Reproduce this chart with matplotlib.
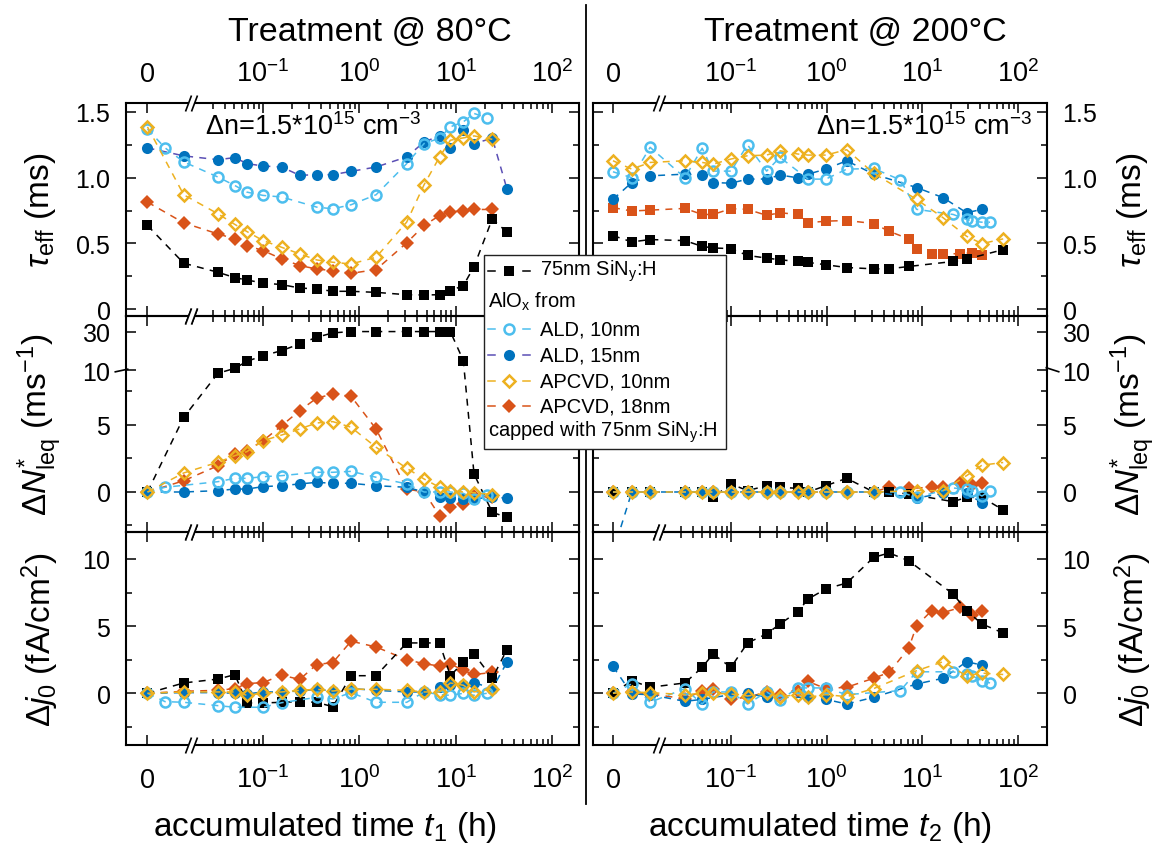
import numpy as np
import matplotlib.pyplot as plt
from matplotlib.lines import Line2D
from matplotlib.patches import Rectangle
from matplotlib.path import Path
from matplotlib.markers import MarkerStyle
from matplotlib.transforms import blended_transform_factory

plt.rcParams['font.family'] = ['Liberation Sans', 'DejaVu Sans']
plt.rcParams['mathtext.fontset'] = 'custom'
plt.rcParams['mathtext.rm'] = 'Liberation Sans'
plt.rcParams['mathtext.it'] = 'Liberation Sans:italic'
plt.rcParams['mathtext.bf'] = 'Liberation Sans:bold'
plt.rcParams['mathtext.sf'] = 'Liberation Sans'
plt.rcParams['lines.scale_dashes'] = False

nan = np.nan

# ---------------- data ----------------
# accumulated time (h) at 80 C
t1 = [0, 0.0096, 0.015, 0.034, 0.051, 0.068, 0.10, 0.156, 0.24, 0.36, 0.53,
      0.82, 1.49, 3.1, 4.7, 6.8, 8.8, 12, 15.5, 21, 24, 34]

tau80_sin = [0.636, nan, 0.349, 0.280, 0.239, 0.221, 0.198, 0.186, 0.160, 0.153, 0.135,
             0.135, 0.127, 0.109, 0.107, 0.109, 0.140, 0.178, 0.323, nan, 0.687, 0.585]
tau80_ald10 = [1.37, 1.227, 1.12, 1.005, 0.94, 0.89, 0.865, 0.853, nan, 0.776, 0.763,
               0.794, 0.87, 1.107, 1.26, 1.30, 1.387, 1.425, 1.489, 1.456, nan, nan]
tau80_ald15 = [1.227, nan, 1.166, 1.137, 1.153, 1.107, 1.089, 1.081, 1.018, 1.023, 1.023,
               1.048, 1.081, 1.158, 1.272, 1.318, 1.227, 1.36, 1.26, nan, 1.30, 0.916]
tau80_apcvd10 = [1.387, nan, 0.87, 0.725, 0.644, 0.59, 0.521, 0.47, 0.42, 0.374, 0.356,
                 0.343, 0.394, 0.662, 0.947, 1.158, 1.285, 1.303, 1.318, nan, 1.292, nan]
tau80_apcvd18 = [0.814, nan, 0.656, 0.572, 0.534, 0.483, 0.445, 0.382, 0.331, 0.305, 0.292,
                 0.272, 0.30, 0.504, 0.636, 0.712, 0.738, 0.75, 0.758, nan, 0.758, nan]

dn80_sin = [0, nan, 5.57, 9.39, 10.9, 14.6, 17.5, 20.2, 23.7, 27.2, 29.5,
            30.2, 30.2, 30.2, 30.2, 30.2, 30.2, 15.0, 1.34, nan, -1.52, -1.89]
dn80_ald10 = [0, 0.35, nan, 0.77, 1.02, 1.02, 1.14, 1.22, nan, 1.47, 1.47,
              1.54, 1.10, 0.60, 0, 0, 0, -0.1, -0.5, -0.25, nan, nan]
dn80_ald15 = [0, nan, 0, 0.1, 0.22, 0.22, 0.4, 0.47, 0.6, 0.72, 0.65,
              0.65, 0.47, 0.35, 0, -0.4, -0.45, -0.5, -0.5, nan, -0.4, -0.45]
dn80_apcvd10 = [0, nan, 1.42, 2.22, 2.71, 3.01, 3.83, 4.25, 4.70, 5.15, 5.25,
                4.83, 3.34, 1.77, 0.97, 0.35, 0.1, 0, -0.05, nan, -0.2, nan]
dn80_apcvd18 = [0, nan, 0.84, 1.96, 2.84, 3.08, 3.83, 4.95, 6.07, 7.0, 7.31,
                7.14, 4.70, 0.22, 0, -1.77, -1.14, -0.9, -0.28, nan, -0.4, nan]

dj80_sin = [0, nan, 0.77, 1.06, 1.39, -0.72, -0.72, -0.67, -0.62, -0.67, -1.0,
            1.31, 1.31, 3.75, 3.75, 3.75, 1.31, 2.31, 2.93, nan, 1.12, 3.25]
dj80_ald10 = [0, -0.62, -0.67, -0.92, -1.04, nan, -1.04, -0.7, nan, -0.3, -0.42,
              0.05, -0.67, -0.67, 0.1, -0.1, -0.15, 0.0, -0.15, 0, nan, nan]
dj80_ald15 = [0, nan, 0.05, 0.05, 0, -0.05, 0.1, 0.1, 0.17, 0.3, 0.17,
              0.35, 0.22, 0.1, 0.1, 0.47, 0.6, 0.6, 0.8, nan, 0.35, 2.3]
dj80_apcvd10 = [0, nan, 0.1, 0.1, 0.1, -0.15, 0, 0.1, 0.22, 0.3, 0.17,
                0.3, 0.3, 0.22, 0.1, 0.1, 0.77, 0.6, 0.1, nan, 0.35, nan]
dj80_apcvd18 = [0, nan, 0.15, 0.22, 0.35, 0.72, 0.8, 1.35, 1.03, 2.14, 2.29,
                3.88, 3.45, 2.5, 2.2, 2.03, 2.2, 1.7, 1.4, nan, 1.55, nan]

# accumulated time (h) at 200 C
t2 = [0, 0.0092, 0.0143, 0.033, 0.050, 0.065, 0.10, 0.149, 0.236, 0.325, 0.50, 0.64,
      0.98, 1.62, 3.1, 4.5, 5.9, 7.2, 8.7, 12.5, 16.5, 21, 25, 29, 33, 42, 51, 70]

tau200_sin = [0.559, 0.511, 0.529, 0.521, 0.477, 0.465, 0.46, 0.408, 0.388, 0.375, 0.362, 0.355,
              0.337, 0.316, 0.306, 0.306, nan, 0.324, nan, nan, nan, 0.362, nan, 0.38, nan, nan, nan, 0.452]
tau200_ald10 = [1.045, 1.0, 1.231, 1.0, 1.224, 1.05, 1.05, 1.25, 1.05, 1.155, nan, 0.989,
                0.989, 1.065, 1.07, nan, 0.983, nan, 0.759, nan, nan, 0.72, nan, 0.682, 0.669, 0.661, 0.661, nan]
tau200_ald15 = [0.835, 0.963, 1.014, 1.027, 1.02, 0.963, 0.958, 0.989, 0.99, 1.02, 0.999, 1.027,
                1.065, 1.129, 1.027, nan, nan, nan, 0.925, nan, 0.848, nan, nan, 0.733, nan, 0.759, nan, nan]
tau200_apcvd10 = [1.129, 1.065, 1.116, 1.129, 1.116, 1.103, 1.142, 1.167, 1.172, 1.205, 1.18, 1.172,
                  1.172, 1.213, 1.034, nan, nan, nan, 0.835, nan, 0.695, nan, nan, 0.554, nan, 0.498, nan, 0.534]
tau200_apcvd18 = [0.772, 0.746, 0.753, 0.766, 0.72, 0.72, 0.764, 0.759, 0.713, 0.733, 0.72, 0.657,
                  0.669, 0.674, 0.651, 0.592, nan, 0.534, 0.457, 0.421, 0.421, nan, 0.421, nan, 0.43, 0.41, nan, nan]

dn200_sin = [0, 0, 0, 0, 0, -0.4, 0.6, 0.1, 0.47, 0.35, 0.27, 0,
             0.47, 1.02, 0, 0, nan, -0.15, nan, nan, nan, -0.72, nan, -0.4, nan, -0.4, nan, -1.34]
dn200_ald10 = [0, 0, 0, 0, 0, 0, 0, 0, 0, 0, nan, 0,
               0, 0, 0, nan, 0, nan, -0.4, nan, nan, 0.3, nan, 0.2, 0.1, -0.3, 0.1, nan]
dn200_ald15 = [-4.5, 0, 0, 0, 0, 0, 0, 0, 0, 0, 0, 0,
               0, 0, 0, nan, nan, nan, -0.45, nan, -0.1, nan, nan, -0.1, nan, -0.8, nan, nan]
dn200_apcvd10 = [0, 0, 0, 0, 0, 0, 0, 0, 0, 0, 0, 0,
                 0, 0, 0, nan, nan, nan, 0.1, nan, 0.1, nan, nan, 1.22, nan, 2.0, nan, 2.2]
dn200_apcvd18 = [0, 0, 0, 0, 0, 0, 0, 0, 0, 0, 0, 0,
                 0, 0, 0, 0.35, nan, 0.27, nan, 0.35, 0.35, nan, 0.67, nan, 0.55, 0.67, nan, nan]

dj200_sin = [0, 0.94, 0.45, 0.77, 1.93, 2.93, 1.93, 3.75, 4.42, 5.16, 6.08, 7.02,
             7.77, 8.21, 10.12, 10.45, nan, 9.87, nan, nan, nan, 7.39, nan, 6.15, nan, 5.16, nan, 4.49]
dj200_ald10 = [0, 0.7, -0.67, 0.35, -0.8, 0.1, 0.1, -0.8, 0.1, -0.5, 0.4, 0.4,
               0.4, -0.1, nan, nan, 0.2, nan, 1.6, nan, nan, 1.6, nan, 1.4, 1.3, 0.94, 0.77, nan]
dj200_ald15 = [2.0, -0.05, -0.1, -0.6, -0.45, nan, -0.1, 0, -0.3, nan, nan, -0.3,
               -0.45, -0.8, -0.3, nan, nan, nan, 0.69, nan, 1.12, nan, nan, 2.35, nan, 2.1, nan, nan]
dj200_apcvd10 = [0, 0.1, 0.05, -0.1, 0, 0, -0.05, -0.2, 0, -0.25, -0.1, -0.3,
                 -0.1, -0.25, 0.35, nan, nan, nan, 1.68, nan, 2.35, nan, nan, 1.3, nan, 1.5, nan, 1.4]
dj200_apcvd18 = [0, 0.1, -0.05, -0.4, 0.17, 0.35, -0.42, -0.3, 0.1, -0.15, 0.2, 0.88,
                 0.35, 0.45, 1.12, 1.56, nan, 3.35, 5.03, 6.15, 6.0, nan, 6.4, nan, 5.83, 6.15, nan, nan]

legend_labels = [r'75nm SiN$_\mathrm{y}$:H', r'AlO$_\mathrm{x}$ from', 'ALD, 10nm', 'ALD, 15nm',
                 'APCVD, 10nm', 'APCVD, 18nm', r'capped with 75nm SiN$_\mathrm{y}$:H']

# ---------------- styles ----------------
names = ['sin', 'apcvd18', 'ald15', 'ald10', 'apcvd10']
STYLE = {
    'sin':     dict(marker='s', color='black', mfc='black', ms=7.2, z=3),
    'ald10':   dict(marker='o', color='#4DBEEE', mfc='none', ms=7.2, z=5),
    'ald15':   dict(marker='o', color='#0072BD', mfc='#0072BD', ms=8.0, z=4),
    'apcvd10': dict(marker='D', color='#EDB120', mfc='none', ms=6.2, z=6),
    'apcvd18': dict(marker='D', color='#D95319', mfc='#D95319', ms=6.8, z=2),
}
PURPLE = '#5B4FB5'
DASH = (0, (5, 4.5))
FS_TICK = 19.5
FS_YTICK = 18
FS_LAB = 24

W, H = 1161, 853
fig = plt.figure(figsize=(W / 100, H / 100), dpi=100)


def add_ax(x0, x1, y0, y1):
    return fig.add_axes([x0 / W, 1 - y1 / H, (x1 - x0) / W, (y1 - y0) / H])


def upos(t, u0):
    t = np.asarray(t, float)
    return np.where(t > 0, np.log10(np.clip(t, 1e-12, None)), u0)


def brk(v):
    # broken y axis of the middle row: linear up to ~9, compressed above 10
    return np.interp(v, [-10, 8.5, 10, 30, 50], [-10, 8.5, 9.1, 11.94, 14.78])


def ident(v):
    return np.asarray(v, float)


xbrk_gap = MarkerStyle(Path([(-6, -8), (0, -8), (6, 8), (0, 8), (-6, -8)], [1, 2, 2, 2, 79]))
xbrk_lines = MarkerStyle(Path([(-6, -8), (0, 8), (0, -8), (6, 8)], [1, 2, 1, 2]))
ybrk_left = MarkerStyle(Path([(-12, -1.5), (2, 1.5)], [1, 2]))
ybrk_right = MarkerStyle(Path([(-2, 3), (12, -1.5)], [1, 2]))

sides = [
    dict(x0=126, x1=578.5, xlim=(-2.423, 2.275), u0=-2.2, t=t1, right=False,
         title='Treatment @ 80°C', tx=370, xlabel=r'accumulated time $t_1$ (h)', xlx=325,
         tau=dict(sin=tau80_sin, ald10=tau80_ald10, ald15=tau80_ald15, apcvd10=tau80_apcvd10, apcvd18=tau80_apcvd18),
         dn=dict(sin=dn80_sin, ald10=dn80_ald10, ald15=dn80_ald15, apcvd10=dn80_apcvd10, apcvd18=dn80_apcvd18),
         dj=dict(sin=dj80_sin, ald10=dj80_ald10, ald15=dj80_ald15, apcvd10=dj80_apcvd10, apcvd18=dj80_apcvd18)),
    dict(x0=592.5, x1=1047, xlim=(-2.447, 2.303), u0=-2.233, t=t2, right=True,
         title='Treatment @ 200°C', tx=855, xlabel=r'accumulated time $t_2$ (h)', xlx=820,
         tau=dict(sin=tau200_sin, ald10=tau200_ald10, ald15=tau200_ald15, apcvd10=tau200_apcvd10, apcvd18=tau200_apcvd18),
         dn=dict(sin=dn200_sin, ald10=dn200_ald10, ald15=dn200_ald15, apcvd10=dn200_apcvd10, apcvd18=dn200_apcvd18),
         dj=dict(sin=dj200_sin, ald10=dj200_ald10, ald15=dj200_ald15, apcvd10=dj200_apcvd10, apcvd18=dj200_apcvd18)),
]

rows = [
    dict(kind='tau', y0=104, y1=317, ylim=(-0.053, 1.5685), f=ident,
         ticks=[0, 0.5, 1.0, 1.5], labels=['0', '0.5', '1.0', '1.5'], minor=[0.25, 0.75, 1.25],
         ylabel=r'$\tau_{\mathrm{eff}}$ (ms)'),
    dict(kind='dn', y0=317, y1=533, ylim=(-2.985, 13.13), f=brk,
         ticks=[0, 5, 10, 30], labels=['0', '5', '10', '30'], minor=[-2.5, 2.5, 7.5],
         ylabel=r'$\Delta N^{*}_{\mathrm{leq}}$ (ms$^{-1}$)'),
    dict(kind='dj', y0=533, y1=746, ylim=(-3.85, 12.01), f=ident,
         ticks=[0, 5, 10], labels=['0', '5', '10'], minor=[-2.5, 2.5, 7.5],
         ylabel=r'$\Delta j_0$ (fA/cm$^2$)'),
]

xlabels = ['$0$', r'$10^{-1}$', r'$10^{0}$', r'$10^{1}$', r'$10^{2}$']
ubreak = -1.75

for side in sides:
    u = upos(side['t'], side['u0'])
    xmaj = [side['u0'], -1, 0, 1, 2]
    xmin = [np.log10(k * 10.0 ** d) for d in range(-2, 2) for k in range(2, 10)]
    xmin = [m for m in xmin if ubreak + 0.15 < m < side['xlim'][1] - 0.01]
    for ri, row in enumerate(rows):
        ax = add_ax(side['x0'], side['x1'], row['y0'], row['y1'])
        ax.patch.set_visible(False)
        f = row['f']
        data = side[row['kind']]
        for key in names:
            st = STYLE[key]
            y = np.asarray(data[key], float)
            m = np.isfinite(y)
            marker = st['marker']
            ms = st['ms']
            if key == 'apcvd18' and row['kind'] == 'tau' and side['right']:
                marker, ms = 's', 7.2
            lc = st['color']
            if key == 'ald15' and row['kind'] == 'tau' and not side['right']:
                lc = PURPLE
            hollow = st['mfc'] == 'none'
            ax.plot(u[m], f(y[m]), ls=DASH, lw=1.1, color=lc, marker=marker, ms=ms,
                    mfc=st['mfc'], mec=st['color'], mew=1.8 if hollow else 0.0,
                    zorder=st['z'])

        ax.set_xlim(*side['xlim'])
        ax.set_ylim(*row['ylim'])
        ax.set_xticks(xmaj)
        ax.set_xticks(xmin, minor=True)
        # mathtext labels keep the text boxes tight to the digits
        ax.set_yticks(f(row['ticks']), labels=['$%s$' % s for s in row['labels']])
        ax.set_yticks(f(row['minor']), minor=True)
        ax.tick_params(which='both', direction='in', top=True, bottom=True, left=True, right=True,
                       width=1.1, labelbottom=False, labeltop=False)
        ax.tick_params(which='major', length=7.5)
        ax.tick_params(which='minor', length=4.5)
        ax.tick_params(axis='y', labelsize=FS_YTICK, pad=11)
        for sp in ax.spines.values():
            sp.set_linewidth(1.5)

        if side['right']:
            ax.tick_params(axis='y', labelleft=False, labelright=True)
            ax.yaxis.set_label_position('right')
            ax.set_ylabel(row['ylabel'], fontsize=FS_LAB, va='center', rotation=90)
            ax.yaxis.set_label_coords((1133 - side['x0']) / (side['x1'] - side['x0']), 0.5)
        else:
            ax.set_ylabel(row['ylabel'], fontsize=FS_LAB, va='center')
            ax.yaxis.set_label_coords((40 - side['x0']) / (side['x1'] - side['x0']), 0.5)

        # x tick labels (top row on top, bottom row below)
        xtf = ax.get_xaxis_transform()
        hpx = row['y1'] - row['y0']
        if ri == 0:
            for xv, s in zip(xmaj, xlabels):
                ax.text(xv, (row['y1'] - 82) / hpx, s, transform=xtf, ha='center',
                        va='baseline', fontsize=FS_TICK)
        if ri == 2:
            for xv, s in zip(xmaj, xlabels):
                ax.text(xv, (row['y1'] - 788) / hpx, s, transform=xtf, ha='center',
                        va='baseline', fontsize=FS_TICK)
            ax.set_xlabel(side['xlabel'], fontsize=FS_LAB, va='center')
            ax.xaxis.set_label_coords((side['xlx'] - side['x0']) / (side['x1'] - side['x0']),
                                      (row['y1'] - 828) / hpx)

        # broken x axis marks
        bt = blended_transform_factory(ax.transData, ax.transAxes)
        for yb in (0, 1):
            ax.plot([ubreak], [yb], ls='none', marker=xbrk_gap, ms=11.5, mfc='white',
                    mec='none', transform=bt, clip_on=False, zorder=9)
            ax.plot([ubreak], [yb], ls='none', marker=xbrk_lines, ms=11.5, mfc='none',
                    mec='black', mew=1.2, transform=bt, clip_on=False, zorder=10)

        # broken y axis mark at 10 in the middle row
        if row['kind'] == 'dn':
            yt = blended_transform_factory(ax.transAxes, ax.transData)
            if side['right']:
                ax.plot([1], [brk(10)], ls='none', marker=ybrk_right, ms=17.3, mfc='none',
                        mec='black', mew=1.2, transform=yt, clip_on=False, zorder=10)
            else:
                ax.plot([0], [brk(10)], ls='none', marker=ybrk_left, ms=17.3, mfc='none',
                        mec='black', mew=1.2, transform=yt, clip_on=False, zorder=10)

        if row['kind'] == 'tau':
            note = r'$\Delta$n=1.5*10$^{15}$ cm$^{-3}$'
            if side['right']:
                ax.text(0.967, 0.89, note, transform=ax.transAxes, ha='right', va='center',
                        fontsize=19.5)
            else:
                ax.text(0.175, 0.89, note, transform=ax.transAxes, ha='left', va='center',
                        fontsize=19.5)

    fig.text(side['tx'] / W, 1 - 33 / H, side['title'], ha='center', va='center', fontsize=24.5)

# separator between the two temperature blocks
fig.add_artist(Line2D([585.5 / W] * 2, [1 - 6 / H, 1 - 805 / H], color='black', lw=1.3))

# ---------------- legend (drawn in figure pixels) ----------------
def fxy(x, y):
    return x / W, 1 - y / H


lx0, ly0, lx1, ly1 = 484, 256, 726, 450
fig.add_artist(Rectangle(fxy(lx0, ly1), (lx1 - lx0) / W, (ly1 - ly0) / H, transform=fig.transFigure,
                         facecolor='white', edgecolor='#222222', lw=1.0, zorder=20))
row_y = [271.7, 301.7, 330, 356, 381.7, 406.7, 432.7]
handle_keys = ['sin', None, 'ald10', 'ald15', 'apcvd10', 'apcvd18', None]
for yy, key, lab in zip(row_y, handle_keys, legend_labels):
    if key is None:
        fig.text(*fxy(488, yy), lab, ha='left', va='center', fontsize=14.5, zorder=22)
        continue
    st = STYLE[key]
    lc = PURPLE if key == 'ald15' else st['color']
    for xa, xb in ((488, 495), (523, 530)):
        fig.add_artist(Line2D([xa / W, xb / W], [1 - yy / H] * 2, color=lc, lw=1.1, zorder=21))
    hollow = st['mfc'] == 'none'
    fig.add_artist(Line2D([509 / W], [1 - yy / H], ls='none', marker=st['marker'], ms=st['ms'],
                          mfc=st['mfc'], mec=st['color'], mew=1.8 if hollow else 0.0, zorder=21))
    fig.text(*fxy(540, yy), lab, ha='left', va='center', fontsize=14.5, zorder=22)

fig.savefig('out.png', dpi=100)
